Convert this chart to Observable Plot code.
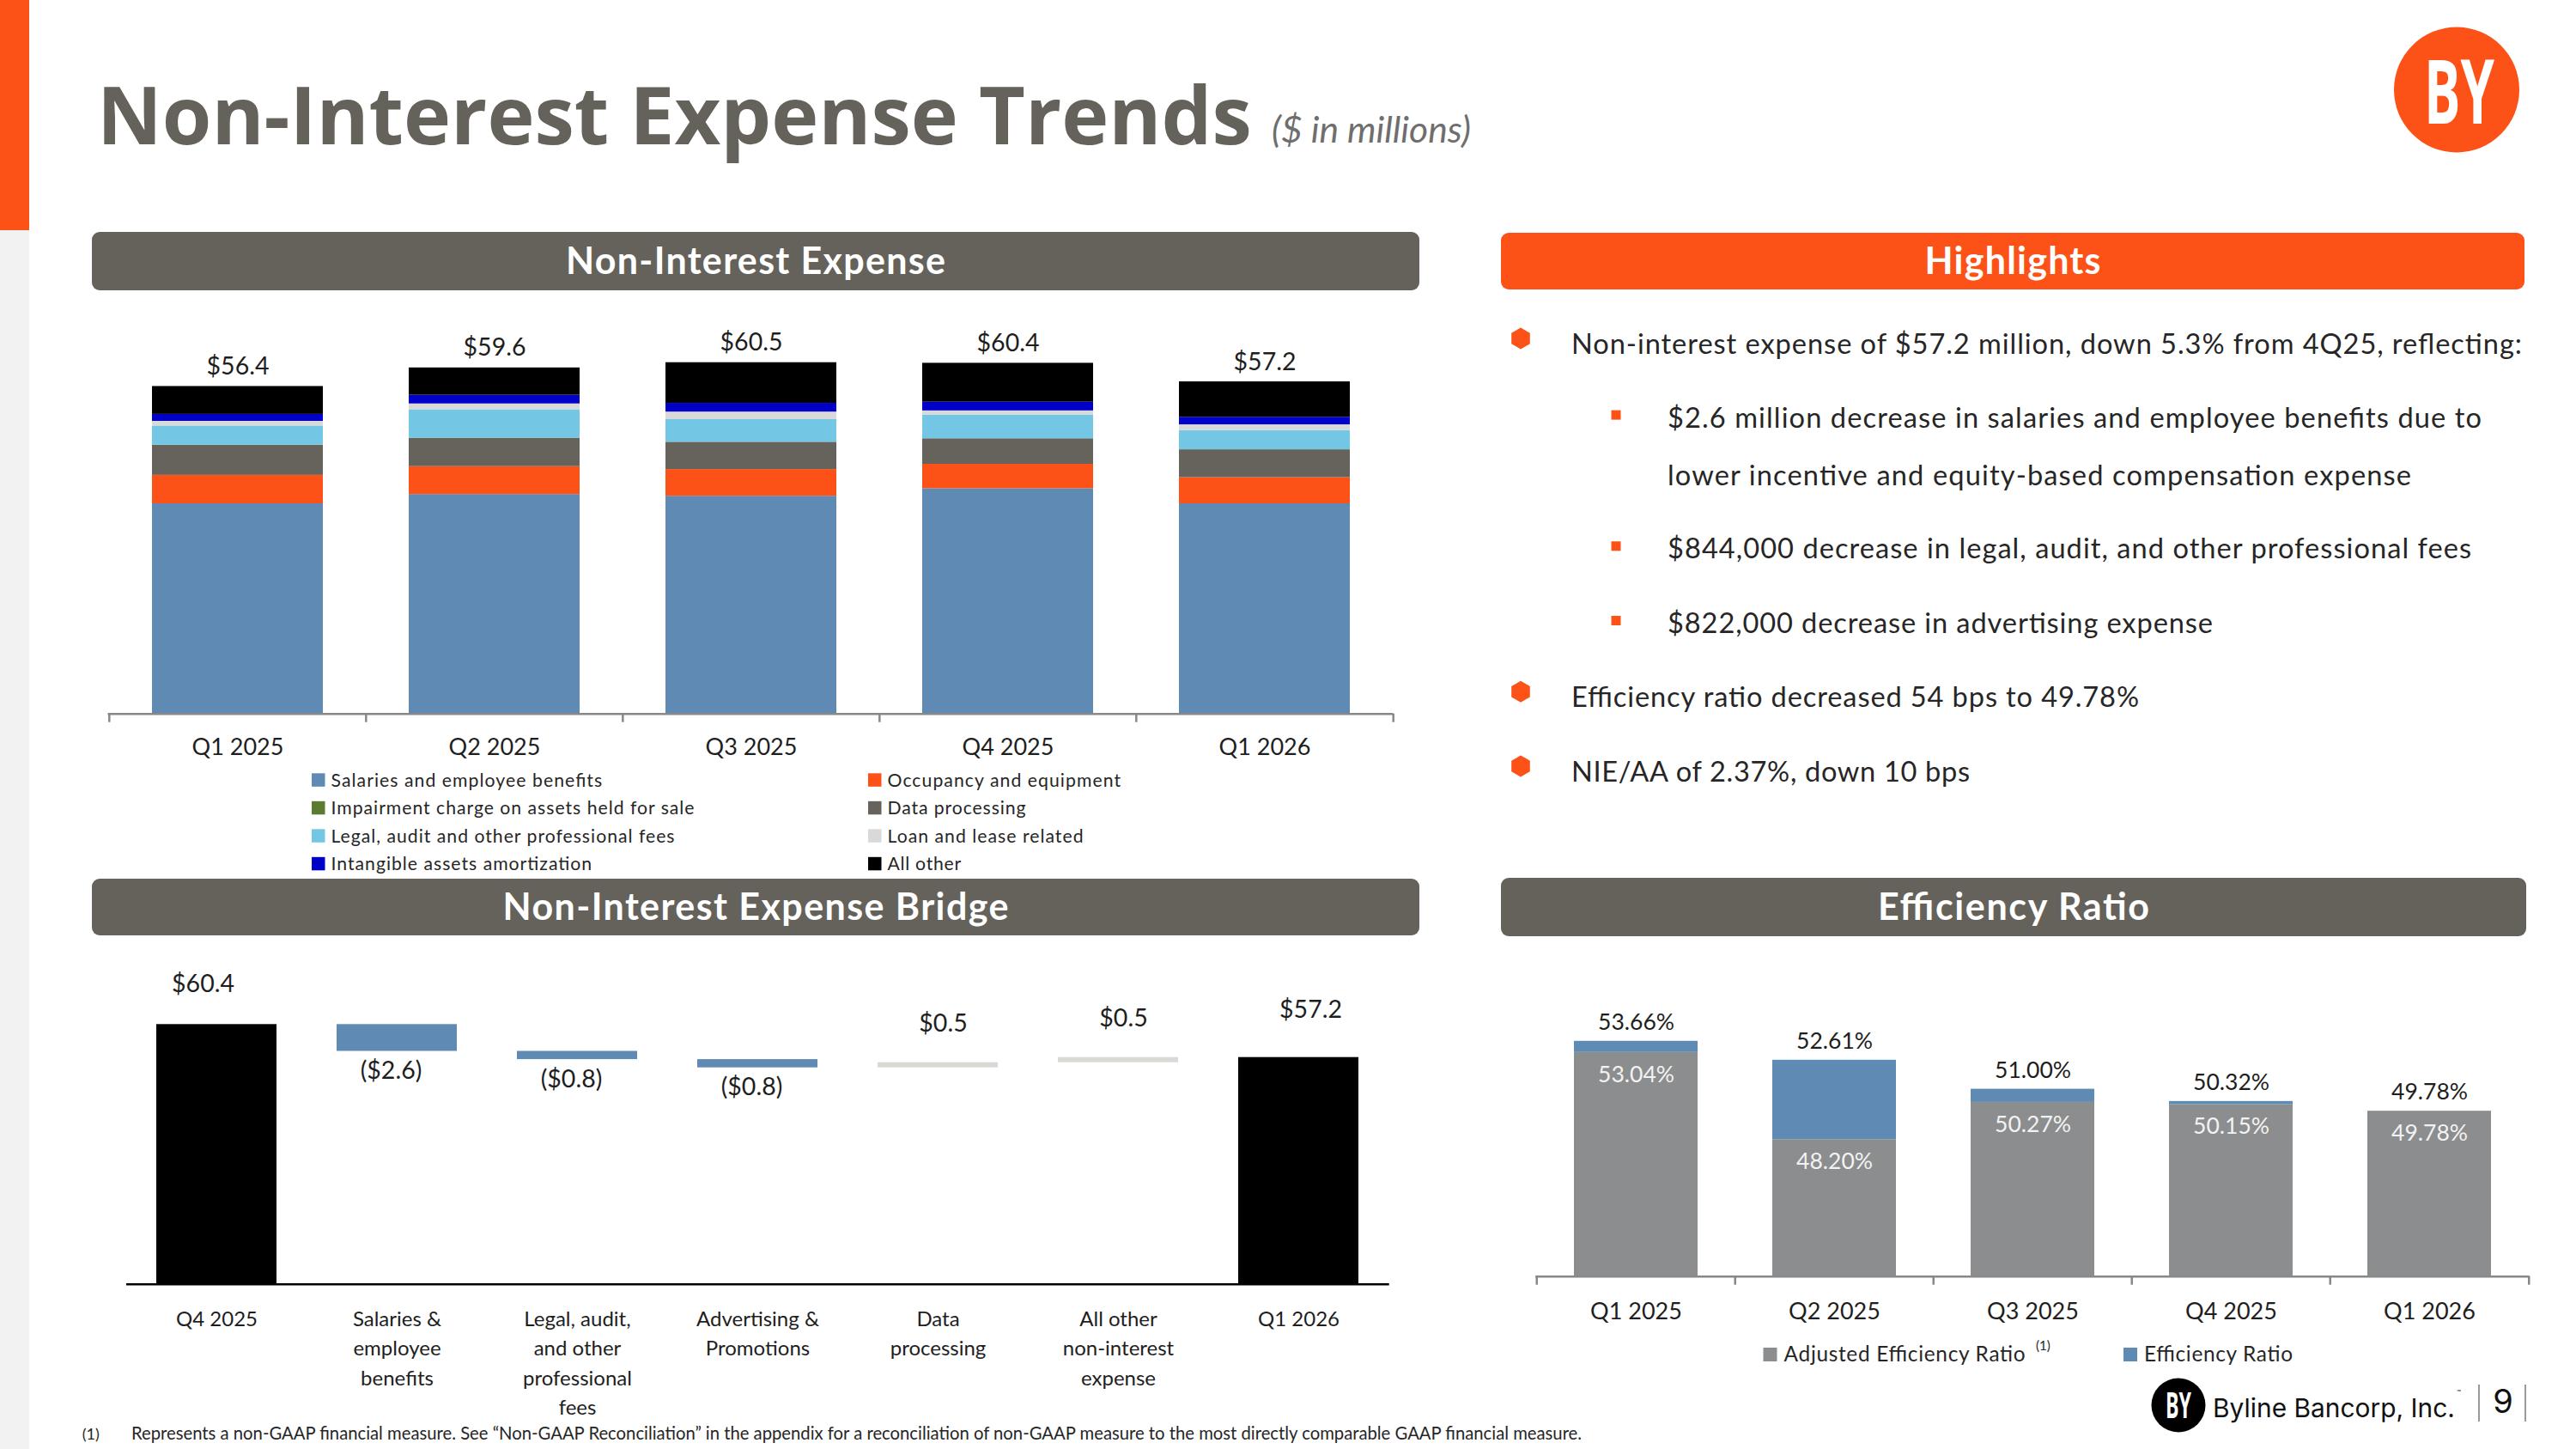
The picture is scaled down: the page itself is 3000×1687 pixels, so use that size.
<!DOCTYPE html>
<html>
<head>
<meta charset="utf-8">
<script src="https://cdn.jsdelivr.net/npm/d3@7"></script>
<script src="https://cdn.jsdelivr.net/npm/@observablehq/plot@0.6"></script>
<style>
  html, body { margin: 0; padding: 0; background: #fff; }
  #slide { position: relative; width: 3000px; height: 1687px; overflow: hidden; background: #fff; }
  #deco { position: absolute; left: 0; top: 0; }
  .chart { position: absolute; }
</style>
</head>
<body>
<div id="slide"><svg id="deco" width="3000" height="1687"></svg></div>
<script>
// ---------- palette & type ----------
const ORANGE = "#FC5217";
const HEADER_GRAY = "#65625B";
const TEXT = "#1E1E1E";
const FONT = "Lato, 'Open Sans', sans-serif";

// ---------- non-interest expense by category ($ millions) ----------
const quarters = ["Q1 2025", "Q2 2025", "Q3 2025", "Q4 2025", "Q1 2026"];
const expenseCategories = [
  "Salaries and employee benefits",
  "Occupancy and equipment",
  "Impairment charge on assets held for sale",
  "Data processing",
  "Legal, audit and other professional fees",
  "Loan and lease related",
  "Intangible assets amortization",
  "All other"
];
const expenseColors = ["#5E8AB4", "#FC5217", "#5B7B2E", "#66635C", "#74C6E5", "#D9D9D9", "#0000C8", "#000000"];
const salaries        = [36.2, 37.8, 37.5, 38.8, 36.2];
const occupancy       = [4.9, 4.8, 4.6, 4.2, 4.5];
const impairment      = [0, 0, 0, 0, 0];
const dataProcessing  = [5.2, 4.9, 4.7, 4.4, 4.8];
const legalFees       = [3.3, 4.9, 3.9, 4.1, 3.3];
const loanLease       = [0.8, 1.0, 1.3, 0.7, 1.0];
const intangibleAmort = [1.2, 1.5, 1.5, 1.5, 1.3];
const allOther        = [4.8, 4.7, 7.0, 6.7, 6.1];
const expenseTotals   = [56.4, 59.6, 60.5, 60.4, 57.2];

// ---------- expense bridge Q4 2025 -> Q1 2026 ($ millions) ----------
const bridgeCategories = [
  "Q4 2025",
  "Salaries &\nemployee\nbenefits",
  "Legal, audit,\nand other\nprofessional\nfees",
  "Advertising &\nPromotions",
  "Data\nprocessing",
  "All other\nnon-interest\nexpense",
  "Q1 2026"
];
const bridgeStart = 60.4;
const bridgeChanges = [-2.6, -0.8, -0.8, 0.5, 0.5];
const bridgeEnd = 57.2;

// ---------- efficiency ratio (%) ----------
const adjustedEfficiency = [53.04, 48.20, 50.27, 50.15, 49.78];
const efficiencyRatio    = [53.66, 52.61, 51.00, 50.32, 49.78];
const efficiencySeries   = ["Adjusted Efficiency Ratio", "Efficiency Ratio"];
const efficiencyColors   = ["#8C8D8E", "#5E8AB4"];

const slide = document.getElementById("slide");
const baseStyle = {background: "transparent", color: TEXT, fontFamily: FONT, overflow: "visible"};

function place(node, left, top) {
  node.classList.add("chart");
  node.style.left = left + "px";
  node.style.top = top + "px";
  slide.appendChild(node);
}

// ---------- chart 1: stacked expense bars ----------
{
  const W = 1560, H = 520, mL = 25.5, mR = 37.6, mT = 11.3, mB = 69.3;
  const yMax = 65;
  const step = (W - mL - mR) / quarters.length;
  const pxPerUnit = (H - mT - mB) / yMax;
  const series = [salaries, occupancy, impairment, dataProcessing, legalFees, loanLease, intangibleAmort, allOther];
  const rows = expenseCategories.flatMap((category, ci) =>
    quarters.map((quarter, qi) => ({quarter, category, value: series[ci][qi]})));
  const tick = {x: d => d, y1: 0, y2: -10 / pxPerUnit, stroke: "#888888", strokeWidth: 2.5};
  const chart = Plot.plot({
    width: W, height: H, marginLeft: mL, marginRight: mR, marginTop: mT, marginBottom: mB,
    style: baseStyle,
    x: {domain: quarters, paddingInner: 0.335, paddingOuter: 0.1675, axis: null},
    y: {domain: [0, yMax], axis: null},
    color: {domain: expenseCategories, range: expenseColors},
    marks: [
      Plot.barY(rows, Plot.stackY({x: "quarter", y: "value", fill: "category", order: expenseCategories})),
      Plot.ruleY([0], {stroke: "#888888", strokeWidth: 2.5}),
      Plot.ruleX(quarters, {...tick, dx: -step / 2}),
      Plot.ruleX(quarters.slice(-1), {...tick, dx: step / 2}),
      Plot.text(quarters, {x: d => d, y: (d, i) => expenseTotals[i], text: (d, i) => `$${expenseTotals[i].toFixed(1)}`,
        dy: -23, fontSize: 28.5, fill: TEXT}),
      Plot.text(quarters, {x: d => d, text: d => d, frameAnchor: "bottom", lineAnchor: "top", dy: 29, fontSize: 27, fill: TEXT})
    ]
  });
  place(chart, 100, 380);
}

// ---------- chart 2: expense bridge (waterfall) ----------
{
  const W = 1560, H = 587, mL = 47, mR = 42.3, mT = 10.7, mB = 192.3;
  const yDomain = [35.2, 67.2];
  let level = bridgeStart;
  const rows = [{label: bridgeCategories[0], kind: "total", value: bridgeStart, y1: 0, y2: bridgeStart}];
  bridgeChanges.forEach((v, i) => {
    rows.push({label: bridgeCategories[i + 1], kind: v < 0 ? "decrease" : "increase", value: v, y1: level, y2: level + v});
    level += v;
  });
  rows.push({label: bridgeCategories[6], kind: "total", value: bridgeEnd, y1: 0, y2: bridgeEnd});
  const fmt = v => v < 0 ? `($${Math.abs(v).toFixed(1)})` : `$${v.toFixed(1)}`;
  const chart = Plot.plot({
    width: W, height: H, marginLeft: mL, marginRight: mR, marginTop: mT, marginBottom: mB,
    style: baseStyle,
    x: {domain: bridgeCategories, paddingInner: 0.333, paddingOuter: 0.1667, axis: null},
    y: {domain: yDomain, axis: null},
    color: {domain: ["total", "decrease", "increase"], range: ["#000000", "#5E8AB4", "#D9D9D6"]},
    marks: [
      Plot.barY(rows, {x: "label", y1: "y1", y2: "y2", fill: "kind", clip: true}),
      Plot.ruleY([yDomain[0]], {stroke: "#000000", strokeWidth: 2.5}),
      Plot.text(rows.slice(0, 1), {x: "label", y: "y2", text: d => fmt(d.value), dy: -47, dx: -16, fontSize: 28.5, fill: TEXT}),
      Plot.text(rows.slice(-1), {x: "label", y: "y2", text: d => fmt(d.value), dy: -55, dx: 14, fontSize: 28.5, fill: TEXT}),
      Plot.text(rows.filter(d => d.kind === "decrease"), {x: "label", y: "y2", text: d => fmt(d.value), dy: 23, dx: -7, fontSize: 28.5, fill: TEXT}),
      Plot.text(rows.filter(d => d.kind === "increase"), {x: "label", y: "y2", text: d => fmt(d.value), dy: -45, dx: 6, fontSize: 28.5, fill: TEXT}),
      Plot.text(bridgeCategories, {x: d => d, text: d => d, frameAnchor: "bottom", lineAnchor: "top", dy: 25,
        fontSize: 24, lineHeight: 1.42, fill: TEXT})
    ]
  });
  place(chart, 100, 1100);
}

// ---------- chart 3: efficiency ratio ----------
{
  const W = 1260, H = 587, mL = 48.2, mR = 54.2, mT = 10.3, mB = 201.3;
  const yDomain = [40.6, 58.5];
  const step = (W - mL - mR) / quarters.length;
  const pxPerUnit = (H - mT - mB) / (yDomain[1] - yDomain[0]);
  const rows = quarters.map((quarter, i) => ({quarter, adjusted: adjustedEfficiency[i], efficiency: efficiencyRatio[i]}));
  const tick = {x: d => d, y1: yDomain[0], y2: yDomain[0] - 10 / pxPerUnit, stroke: "#888888", strokeWidth: 2.5};
  const chart = Plot.plot({
    width: W, height: H, marginLeft: mL, marginRight: mR, marginTop: mT, marginBottom: mB,
    style: baseStyle,
    x: {domain: quarters, paddingInner: 0.375, paddingOuter: 0.1875, axis: null},
    y: {domain: yDomain, axis: null},
    color: {domain: efficiencySeries, range: efficiencyColors},
    marks: [
      Plot.barY(rows, {x: "quarter", y1: 0, y2: "adjusted", fill: () => efficiencySeries[0], clip: true}),
      Plot.barY(rows, {x: "quarter", y1: "adjusted", y2: "efficiency", fill: () => efficiencySeries[1], clip: true}),
      Plot.ruleY([yDomain[0]], {stroke: "#888888", strokeWidth: 2.5}),
      Plot.ruleX(quarters, {...tick, dx: -step / 2}),
      Plot.ruleX(quarters.slice(-1), {...tick, dx: step / 2}),
      Plot.text(rows, {x: "quarter", y: "efficiency", text: d => `${d.efficiency.toFixed(2)}%`, dy: -22, fontSize: 26.5, fill: TEXT}),
      Plot.text(rows, {x: "quarter", y: "adjusted", text: d => `${d.adjusted.toFixed(2)}%`, dy: 26, fontSize: 26.5, fill: "#F2F2F2"}),
      Plot.text(quarters, {x: d => d, text: d => d, frameAnchor: "bottom", lineAnchor: "top", dy: 31, fontSize: 27, fill: TEXT})
    ]
  });
  place(chart, 1740, 1100);
}

// ---------- slide furniture: title, panel headers, highlights, legends, footer ----------
const deco = d3.select("#deco");

function txt(x, y, s, o = {}) {
  const t = deco.append("text")
    .attr("x", x).attr("y", y)
    .attr("font-family", o.family || FONT)
    .attr("font-size", o.size || 20)
    .attr("font-weight", o.weight || 400)
    .attr("font-style", o.style || "normal")
    .attr("fill", o.fill || TEXT)
    .attr("text-anchor", o.anchor || "start")
    .text(s);
  if (o.len) t.attr("textLength", o.len).attr("lengthAdjust", o.adjust || "spacing");
  return t;
}

// scale a text's font size so its natural advance equals the wanted width
function fitWidth(t, width) {
  const w = t.node().getComputedTextLength();
  if (w > 0) t.attr("font-size", +t.attr("font-size") * width / w);
  return t;
}

// side stripe
deco.append("rect").attr("x", 0).attr("y", 0).attr("width", 34).attr("height", 268).attr("fill", ORANGE);
deco.append("rect").attr("x", 0).attr("y", 268).attr("width", 34).attr("height", 1419).attr("fill", "#F2F2F2");

// title
fitWidth(txt(113, 168, "Non-Interest Expense Trends", {family: "'Open Sans', sans-serif", size: 100, weight: 700, fill: HEADER_GRAY}), 1345);
fitWidth(txt(1481, 166, "($ in millions)", {size: 36, style: "italic", fill: "#6E6E6E"}), 232);

// corner logo
deco.append("circle").attr("cx", 2861).attr("cy", 104.5).attr("r", 73).attr("fill", ORANGE);
txt(2823, 144, "BY", {family: "'Open Sans', sans-serif", size: 104, weight: 700, fill: "#FFFFFF", len: 82, adjust: "spacingAndGlyphs"});

// panel headers
const headers = [
  {label: "Non-Interest Expense", x: 107, y: 270, w: 1546, h: 68, fill: HEADER_GRAY, len: 442},
  {label: "Highlights", x: 1748, y: 271, w: 1192, h: 66, fill: ORANGE, len: 205},
  {label: "Non-Interest Expense Bridge", x: 107, y: 1023, w: 1546, h: 66, fill: HEADER_GRAY, len: 589},
  {label: "Efficiency Ratio", x: 1748, y: 1022, w: 1194, h: 68, fill: HEADER_GRAY, len: 316}
];
headers.forEach(h => {
  deco.append("rect").attr("x", h.x).attr("y", h.y).attr("width", h.w).attr("height", h.h).attr("rx", 9).attr("fill", h.fill);
  txt(h.x + h.w / 2, h.y + h.h / 2 + 15, h.label, {size: 43, weight: 700, fill: "#FFFFFF", anchor: "middle", len: h.len});
});

// highlights
const highlights = [
  {level: 1, y: 411.7, len: 1107, text: "Non-interest expense of $57.2 million, down 5.3% from 4Q25, reflecting:"},
  {level: 2, y: 497.6, len: 948, text: "$2.6 million decrease in salaries and employee benefits due to"},
  {level: 0, y: 564.6, len: 866, text: "lower incentive and equity-based compensation expense"},
  {level: 2, y: 650.3, len: 936, text: "$844,000 decrease in legal, audit, and other professional fees"},
  {level: 2, y: 737, len: 635, text: "$822,000 decrease in advertising expense"},
  {level: 1, y: 822.9, len: 661, text: "Efficiency ratio decreased 54 bps to 49.78%"},
  {level: 1, y: 909.6, len: 464, text: "NIE/AA of 2.37%, down 10 bps"}
];
highlights.forEach(h => {
  const x = h.level === 1 ? 1830 : 1942;
  if (h.level === 1) {
    const cx = 1771, cy = h.y - 17.7, rx = 10.8, ry = 12.5;
    deco.append("polygon").attr("fill", ORANGE).attr("points",
      [[cx, cy - ry], [cx + rx, cy - ry / 2], [cx + rx, cy + ry / 2], [cx, cy + ry], [cx - rx, cy + ry / 2], [cx - rx, cy - ry / 2]].map(p => p.join(",")).join(" "));
  } else if (h.level === 2) {
    deco.append("rect").attr("x", 1876.5).attr("y", h.y - 20).attr("width", 11).attr("height", 11).attr("fill", ORANGE);
  }
  txt(x, h.y, h.text, {size: 32.6, fill: "#262626", len: h.len});
});

// legend for the stacked expense bars
const legendWidths = [315.7, 271.5, 423, 161, 400, 228, 303.7, 85.6];
expenseCategories.forEach((c, i) => {
  const col = i % 2, row = Math.floor(i / 2);
  const sx = col === 0 ? 363 : 1011;
  const cy = 908 + row * 32.5;
  deco.append("rect").attr("x", sx).attr("y", cy - 7.7).attr("width", 15.5).attr("height", 15.5).attr("fill", expenseColors[i]);
  txt(sx + 22.5, cy + 7.5, c, {size: 21.2, fill: "#262626", len: legendWidths[i]});
});

// legend for the efficiency ratio bars
deco.append("rect").attr("x", 2053.5).attr("y", 1569).attr("width", 16).attr("height", 16).attr("fill", efficiencyColors[0]);
txt(2077.6, 1584.5, efficiencySeries[0], {size: 24.4, fill: "#262626", len: 281});
txt(2371, 1572, "(1)", {size: 15, fill: "#262626"});
deco.append("rect").attr("x", 2473).attr("y", 1569).attr("width", 16).attr("height", 16).attr("fill", efficiencyColors[1]);
txt(2497, 1584.5, efficiencySeries[1], {size: 24.4, fill: "#262626", len: 173});

// footnote
txt(95.7, 1675.5, "(1)", {size: 18, fill: "#262626"});
fitWidth(txt(153, 1675.5, "Represents a non-GAAP financial measure.  See \u201CNon-GAAP Reconciliation\u201D in the appendix for a reconciliation of non-GAAP measure to the most directly comparable GAAP financial measure.",
  {size: 19, fill: "#262626"}), 1690);

// footer brand & page number
deco.append("circle").attr("cx", 2537).attr("cy", 1636).attr("r", 31.5).attr("fill", "#000000");
txt(2522, 1651, "BY", {family: "'Open Sans', sans-serif", size: 42, weight: 700, fill: "#FFFFFF", len: 30, adjust: "spacingAndGlyphs"});
const brand = fitWidth(txt(2577, 1650, "Byline Bancorp, Inc.", {family: "Inter, sans-serif", size: 44, weight: 400, fill: "#111111"}), 282);
txt(2577 + 284, 1624, "\u2122", {family: "Inter, sans-serif", size: 8, fill: "#111111"});
deco.append("line").attr("x1", 2887).attr("x2", 2887).attr("y1", 1612).attr("y2", 1655).attr("stroke", "#9A9A9A").attr("stroke-width", 2);
txt(2915, 1645, "9", {family: "Inter, sans-serif", size: 38, fill: "#111111", anchor: "middle"});
deco.append("line").attr("x1", 2941).attr("x2", 2941).attr("y1", 1612).attr("y2", 1655).attr("stroke", "#9A9A9A").attr("stroke-width", 2);
</script>
</body>
</html>
